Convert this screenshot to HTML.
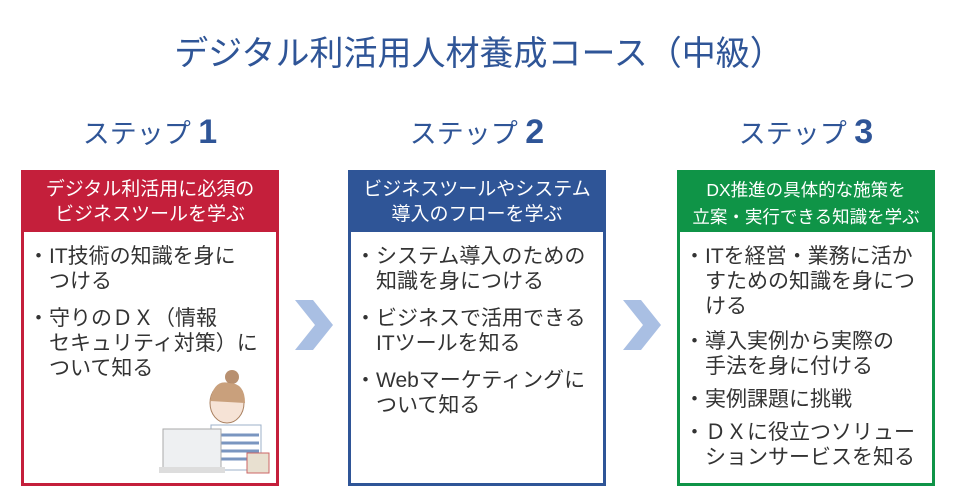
<!DOCTYPE html>
<html><head><meta charset="utf-8"><style>
body{margin:0;width:958px;height:500px;background:#fff;position:relative;overflow:hidden;font-family:"Liberation Sans","Noto Sans CJK JP",sans-serif;}
.title{position:absolute;top:26px;left:0;width:958px;text-align:center;font-size:34px;color:#2f5597;}
.step{position:absolute;top:112px;width:258px;text-align:center;font-size:27px;color:#2f5597;}
.step b{font-size:34px;}
.box{position:absolute;top:170px;width:252px;height:310px;border:3px solid;background:#fff;}
.hd{height:59px;color:#fff;font-size:19px;text-align:center;line-height:25px;padding-top:4px;box-sizing:border-box;white-space:nowrap;}
.bd{padding:12px 0 0 4px;font-size:21px;line-height:25px;color:#333;white-space:nowrap;}
.bd p{margin:0 0 12px 0;padding-left:21px;text-indent:-21px;}
.chev{position:absolute;top:300px;}
</style></head><body>
<div class="title">デジタル利活用人材養成コース（中級）</div>
<div class="step" style="left:21px">ステップ <b>1</b></div>
<div class="step" style="left:348px">ステップ <b>2</b></div>
<div class="step" style="left:677px">ステップ <b>3</b></div>

<div class="box" style="left:21px;border-color:#c41f3b">
<div class="hd" style="background:#c41f3b">デジタル利活用に必須の<br>ビジネスツールを学ぶ</div>
<div class="bd"><p>・IT技術の知識を身に<br>つける</p><p>・守りのＤＸ（情報<br>セキュリティ対策）に<br>ついて知る</p></div>
<svg style="position:absolute;left:135px;top:190px" width="115" height="115">
<circle cx="73" cy="14" r="7" fill="#b89070"/>
<ellipse cx="68" cy="40" rx="17" ry="20" fill="#f6e3d6" stroke="#a98060"/>
<path d="M51 38 Q55 16 70 20 Q86 20 86 40" fill="#c9a07c"/>
<rect x="52" y="62" width="50" height="45" fill="#fff" stroke="#9cb0c8"/>
<path d="M54 72h46M54 80h46M54 88h46M54 96h46" stroke="#7a96c0" stroke-width="3"/>
<rect x="4" y="66" width="58" height="40" fill="#eef0f2" stroke="#aaa"/>
<rect x="0" y="104" width="66" height="6" fill="#ddd"/>
<rect x="88" y="90" width="22" height="20" fill="#e8e0d0" stroke="#c66"/>
</svg>
</div>

<div class="box" style="left:348px;border-color:#2f5597">
<div class="hd" style="background:#2f5597">ビジネスツールやシステム<br>導入のフローを学ぶ</div>
<div class="bd"><p>・システム導入のための<br>知識を身につける</p><p>・ビジネスで活用できる<br>ITツールを知る</p><p>・Webマーケティングに<br>ついて知る</p></div>
</div>

<div class="box" style="left:677px;border-color:#0f9447">
<div class="hd" style="background:#0f9447;line-height:27px;font-size:17.5px">DX推進の具体的な施策を<br>立案・実行できる知識を学ぶ</div>
<div class="bd" style="padding-top:12px"><p style="margin-bottom:10px">・ITを経営・業務に活か<br>すための知識を身につ<br>ける</p><p style="margin-bottom:8px">・導入実例から実際の<br>手法を身に付ける</p><p style="margin-bottom:8px">・実例課題に挑戦</p><p>・ＤＸに役立つソリュー<br>ションサービスを知る</p></div>
</div>

<svg class="chev" style="left:295px" width="38" height="50"><polygon points="0,0 18,0 38,25 18,50 0,50 20,25" fill="#a9bfe3"/></svg>
<svg class="chev" style="left:623px" width="38" height="50"><polygon points="0,0 18,0 38,25 18,50 0,50 20,25" fill="#a9bfe3"/></svg>
</body></html>
